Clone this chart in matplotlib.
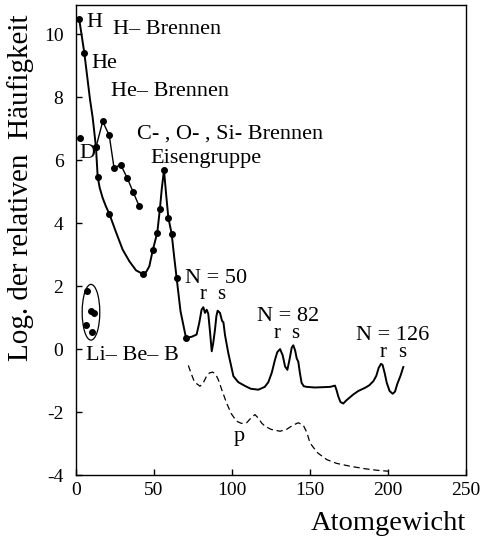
import numpy as np
import matplotlib
matplotlib.use("Agg")
import matplotlib.pyplot as plt
from matplotlib.patches import Ellipse

# Solar abundance curve: mass number vs log abundance
main_x = [2.0, 5.3, 9.0, 10.7, 12.8, 13.9, 15.2, 17.1, 19.2, 21.4, 25.6, 29.9,
          34.2, 38.5, 42.7, 45.0, 47.0, 49.2, 52.1, 53.8, 55.0, 56.4, 57.8,
          59.2, 61.3, 63.0, 64.5, 67.0, 70.5,
          74.1, 77.3, 79.0, 80.5, 81.6, 82.7, 83.8, 84.8, 86.0, 87.0, 88.0, 89.1,
          90.0, 90.8, 92.3, 93.6, 94.5, 95.5, 97.6, 100.9, 104.0, 108.3, 112.0,
          116.9, 121.0, 123.3, 125.5, 127.5, 129.0, 130.8, 132.5, 134.0, 135.5,
          137.0, 138.3, 139.3, 140.5, 141.5, 142.5, 143.5, 144.6, 146.0, 147.8,
          153.0, 158.5, 163.0, 166.0, 167.0, 168.1, 169.5, 171.3, 173.5, 177.8,
          181.0, 185.3, 188.0, 190.6, 192.5, 194.0, 195.5, 196.5, 197.8, 199.2,
          201.0, 203.0, 204.5, 206.0, 208.0, 209.8]
main_y = [10.5, 9.42, 7.92, 7.35, 6.41, 5.47, 5.12, 4.80, 4.53, 4.29, 3.72, 3.16,
          2.79, 2.50, 2.39, 2.45, 2.63, 3.14, 3.70, 4.46, 5.1, 5.68, 4.9,
          4.17, 3.67, 2.9, 2.26, 1.2, 0.36,
          0.39, 0.46, 0.83, 1.25, 1.33, 1.15, 1.25, 1.12, 0.5, -0.07, 0.2, 0.62,
          1.05, 1.22, 1.15, 0.9, 0.85, 0.45, -0.12, -0.86, -1.05, -1.17, -1.26,
          -1.29, -1.2, -1.05, -0.75, -0.35, -0.1, 0.0, -0.2, -0.55, -0.66,
          -0.3, 0.05, 0.12, -0.05, -0.3, -0.4, -0.75, -1.07, -1.18, -1.2,
          -1.22, -1.21, -1.2, -1.16, -1.3, -1.5, -1.68, -1.73, -1.62, -1.44,
          -1.33, -1.23, -1.15, -1.02, -0.85, -0.6, -0.47, -0.5, -0.75, -1.07,
          -1.33, -1.42, -1.35, -1.1, -0.85, -0.57]

# measured points on the main curve
dot_x = [2.0, 5.3, 12.8, 13.9, 21.4, 42.7, 49.2, 52.1, 53.8, 56.4, 59.2, 61.3, 64.5, 70.5]
dot_y = [10.5, 9.42, 6.41, 5.47, 4.29, 2.39, 3.14, 3.70, 4.46, 5.68, 4.17, 3.67, 2.26, 0.36]

# He-burning chain
chain_x = [12.8, 17.1, 21.3, 24.4, 28.6, 32.9, 36.7, 40.6]
chain_y = [6.41, 7.23, 6.79, 5.75, 5.86, 5.43, 4.98, 4.53]

# deuterium and Li-Be-B
d_x, d_y = [2.6], [6.70]
libeb_x = [7.3, 9.4, 11.5, 6.4, 10.0]
libeb_y = [1.84, 1.20, 1.15, 0.76, 0.53]

# p-process (dashed)
p_x = [72.0, 74.0, 76.0, 79.5, 81.5, 83.7, 85.5, 87.6, 89.5, 91.2, 93.5, 96.5,
       99.5, 102.9, 106.0, 109.4, 112.0, 114.7, 117.0, 119.0, 121.2, 125.0,
       130.8, 135.0, 139.0, 142.5, 145.7, 148.0, 150.0, 152.1, 155.0, 160.7,
       167.0, 175.6, 185.0, 193.0, 200.2]
p_y = [-0.52, -0.8, -1.05, -1.18, -1.08, -0.86, -0.76, -0.73, -0.8, -0.97, -1.3,
       -1.71, -2.05, -2.29, -2.36, -2.34, -2.2, -2.08, -2.2, -2.35, -2.45, -2.55,
       -2.61, -2.55, -2.42, -2.34, -2.42, -2.65, -2.98, -3.12, -3.3, -3.51,
       -3.63, -3.72, -3.8, -3.85, -3.88]

x_ticks = [0, 50, 100, 150, 200, 250]
y_ticks = [-4, -2, 0, 2, 4, 6, 8, 10]

plt.rcParams['font.family'] = ['Liberation Serif', 'DejaVu Serif']
plt.rcParams['axes.unicode_minus'] = False

fig = plt.figure(figsize=(4.8, 5.38), dpi=100)
ax = fig.add_axes([76/480, 63/538, 390/480, 470/538])

ax.plot(main_x, main_y, color='black', lw=1.4)
ax.plot(dot_x, dot_y, 'o', color='black', ms=4)
ax.plot(chain_x, chain_y, '-o', color='black', lw=1.0, ms=4)
ax.plot(d_x, d_y, 'o', color='black', ms=4)
ax.plot(libeb_x, libeb_y, 'o', color='black', ms=4)
ax.plot(p_x, p_y, color='black', lw=0.9, dashes=(5, 3))
ax.add_patch(Ellipse((9.6, 1.17), 11.3, 1.77, fill=False, color='black', lw=0.9))

fs = 16
ax.text(6.9, 10.23, 'H', fontsize=fs)
ax.text(23.7, 10.02, 'H\u2013 Brennen', fontsize=fs)
ax.text(9.8, 8.93, 'He', fontsize=fs)
ax.text(22.4, 8.03, 'He\u2013 Brennen', fontsize=fs)
ax.text(38.9, 6.70, 'C- , O- , Si- Brennen', fontsize=fs)
ax.text(47.9, 5.91, 'Eisengruppe', fontsize=fs)
ax.text(1.9, 6.07, 'D', fontsize=fs)
ax.text(69.9, 2.10, 'N = 50', fontsize=fs)
ax.text(79.5, 1.59, 'r', fontsize=15)
ax.text(90.4, 1.59, 's', fontsize=15)
ax.text(116.2, 0.88, 'N = 82', fontsize=fs)
ax.text(126.5, 0.36, 'r', fontsize=15)
ax.text(137.8, 0.36, 's', fontsize=15)
ax.text(179.5, 0.30, 'N = 126', fontsize=fs)
ax.text(194.4, -0.25, 'r', fontsize=15)
ax.text(206.6, -0.25, 's', fontsize=15)
ax.text(100.8, -2.93, 'p', fontsize=fs)
ax.text(6.4, -0.36, 'Li\u2013 Be\u2013 B', fontsize=fs)

ax.set_xlim(0, 250)
ax.set_ylim(-4, 10.93)
ax.set_xticks(x_ticks)
ax.set_yticks(y_ticks)
ax.tick_params(direction='in', length=4, width=1, labelsize=14)
ax.tick_params(axis='y', pad=9)
ax.tick_params(axis='x', pad=5)
for s in ax.spines.values():
    s.set_linewidth(1)

fig.text(466/480, 1 - 530/538, 'Atomgewicht', fontsize=20.5, ha='right', va='baseline')
fig.text(21/480, 1 - 188/538, 'Log. der relativen  H\u00e4ufigkeit', fontsize=21,
         rotation=90, ha='center', va='center')

plt.savefig("out.png", dpi=100)
plt.close()
